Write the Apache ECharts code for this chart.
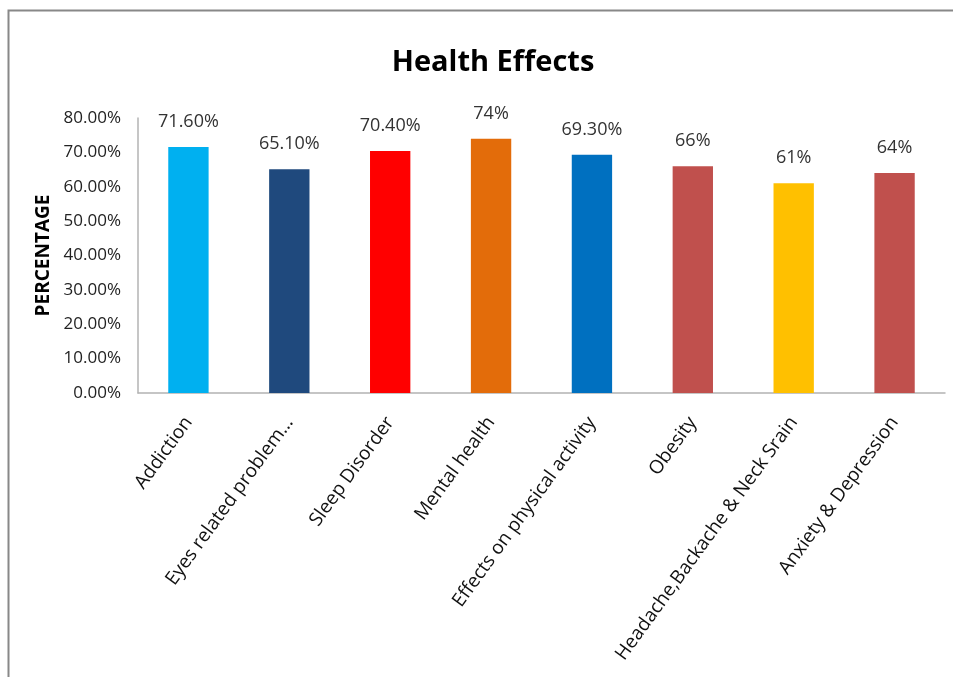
<!DOCTYPE html>
<html>
<head>
<meta charset="utf-8">
<script src="https://cdn.jsdelivr.net/npm/echarts@6/dist/echarts.min.js"></script>
<style>
  html, body { margin: 0; padding: 0; background: #fff; }
  #chart { width: 953px; height: 677px; }
</style>
</head>
<body>
<div id="chart"></div>
<script>
// 数据
var categories = ['Addiction', 'Eyes related problem\u2026', 'Sleep Disorder', 'Mental health',
    'Effects on physical activity', 'Obesity', 'Headache,Backache & Neck Srain', 'Anxiety & Depression'];
var values = [71.6, 65.1, 70.4, 74, 69.3, 66, 61, 64];
var valueLabels = ['71.60%', '65.10%', '70.40%', '74%', '69.30%', '66%', '61%', '64%'];
var barColors = ['#00B0F0', '#1F497D', '#FF0000', '#E36C0A', '#0070C0', '#C0504D', '#FFC000', '#C0504D'];
var yTicks = [0, 10, 20, 30, 40, 50, 60, 70, 80];

var font = 'Open Sans';
var myChart = echarts.init(document.getElementById('chart'));

var option = {
    backgroundColor: '#fff',
    animation: false,
    title: {
        text: 'Health Effects',
        left: 488,
        top: 43,
        textAlign: 'center',
        textStyle: { fontFamily: font, fontSize: 29, fontWeight: 'bold', color: '#000' }
    },
    graphic: [{
        type: 'rect',
        shape: { x: 8.5, y: 10.5, width: 1200, height: 1000 },
        style: { fill: 'none', stroke: '#888', lineWidth: 2 },
        silent: true
    }],
    grid: { left: 138, right: 8, top: 118, bottom: 284 },
    xAxis: {
        type: 'category',
        data: categories,
        axisLine: { lineStyle: { color: '#b3b3b3', width: 1.5 } },
        axisTick: { show: false },
        axisLabel: {
            interval: 0,
            rotate: 54,
            margin: 26,
            fontFamily: font,
            fontSize: 19,
            color: '#111'
        }
    },
    yAxis: {
        type: 'value',
        min: yTicks[0],
        max: yTicks[yTicks.length - 1],
        interval: 10,
        name: 'PERCENTAGE',
        nameLocation: 'middle',
        nameGap: 84,
        nameTextStyle: { fontFamily: font, fontSize: 19, fontWeight: 'bold', color: '#000' },
        axisLine: { show: true, lineStyle: { color: '#b3b3b3', width: 1.5 } },
        axisTick: { show: false },
        splitLine: { show: false },
        axisLabel: {
            margin: 17,
            fontFamily: font,
            fontSize: 17,
            color: '#222',
            formatter: function (v) { return v.toFixed(2) + '%'; }
        }
    },
    series: [{
        type: 'bar',
        barWidth: '40%',
        data: values.map(function (v, i) {
            return { value: v, itemStyle: { color: barColors[i] } };
        }),
        label: {
            show: true,
            position: 'top',
            distance: 16,
            fontFamily: font,
            fontSize: 18,
            color: '#333',
            formatter: function (p) { return valueLabels[p.dataIndex]; }
        }
    }]
};

myChart.setOption(option);
</script>
</body>
</html>
